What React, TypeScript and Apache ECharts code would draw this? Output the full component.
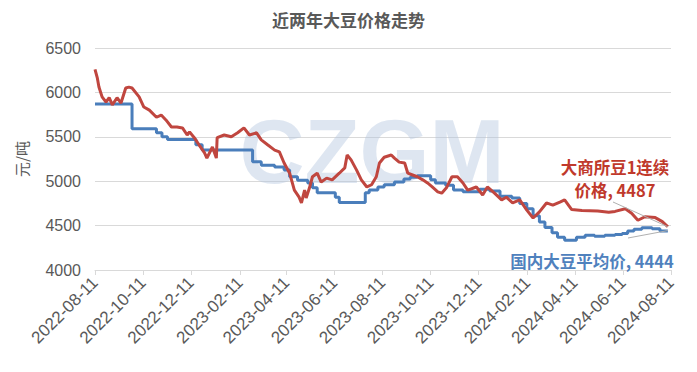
import React, { useEffect, useRef } from "react";
import * as echarts from "echarts";

const TITLE = "近两年大豆价格走势";
const Y_NAME = "元/吨";
const WATERMARK = "CZGM";
const RED_NAME = "大商所豆1连续";
const RED_LABEL_1 = "大商所豆1连续";
const RED_LABEL_2 = "价格, 4487";
const BLUE_NAME = "国内大豆平均价";
const BLUE_LABEL = "国内大豆平均价, 4444";

const X_MIN = "2022-08-11";
const X_MAX = "2024-08-11";
const X_TICKS = [
  "2022-08-11", "2022-10-11", "2022-12-11", "2023-02-11", "2023-04-11",
  "2023-06-11", "2023-08-11", "2023-10-11", "2023-12-11", "2024-02-11",
  "2024-04-11", "2024-06-11", "2024-08-11",
];
const Y_MIN = 4000;
const Y_MAX = 6500;
const Y_STEP = 500;

const redDates = [
  "2022-08-11", "2022-08-14", "2022-08-16", "2022-08-20", "2022-08-25", "2022-08-29",
  "2022-09-02", "2022-09-08", "2022-09-13", "2022-09-19", "2022-09-23", "2022-09-27",
  "2022-10-06", "2022-10-12", "2022-10-19", "2022-10-28", "2022-11-03", "2022-11-09",
  "2022-11-16", "2022-11-23", "2022-11-30", "2022-12-06", "2022-12-09", "2022-12-15",
  "2022-12-21", "2022-12-28", "2022-12-31", "2023-01-07", "2023-01-12", "2023-01-13",
  "2023-01-22", "2023-01-31", "2023-02-08", "2023-02-16", "2023-02-23", "2023-03-04",
  "2023-03-10", "2023-03-18", "2023-03-27", "2023-04-02", "2023-04-08", "2023-04-15",
  "2023-04-21", "2023-04-27", "2023-04-30", "2023-05-04", "2023-05-06", "2023-05-10",
  "2023-05-14", "2023-05-20", "2023-05-25", "2023-06-01", "2023-06-08", "2023-06-17",
  "2023-06-24", "2023-06-27", "2023-07-02", "2023-07-09", "2023-07-15", "2023-07-22",
  "2023-07-28", "2023-08-03", "2023-08-07", "2023-08-13", "2023-08-22", "2023-08-26",
  "2023-09-01", "2023-09-08", "2023-09-12", "2023-09-18", "2023-09-24", "2023-10-01",
  "2023-10-07", "2023-10-13", "2023-10-20", "2023-10-25", "2023-10-31", "2023-11-07",
  "2023-11-14", "2023-11-21", "2023-11-27", "2023-12-02", "2023-12-08", "2023-12-16",
  "2023-12-22", "2023-12-31", "2024-01-09", "2024-01-15", "2024-01-23", "2024-02-01",
  "2024-02-10", "2024-02-18", "2024-02-26", "2024-03-06", "2024-03-14", "2024-03-23",
  "2024-03-29", "2024-04-07", "2024-04-20", "2024-05-10", "2024-05-24", "2024-06-01",
  "2024-06-14", "2024-06-22", "2024-06-30", "2024-07-09", "2024-07-22", "2024-07-31",
  "2024-08-07",
];
const redValues = [
  6260, 6160, 6060, 5950, 5890, 5940,
  5860, 5940, 5880, 6050, 6060, 6050,
  5950, 5835, 5800, 5720, 5745, 5690,
  5610, 5610, 5600, 5520, 5555, 5490,
  5410, 5320, 5260, 5385, 5260, 5490,
  5520, 5500, 5545, 5600, 5520, 5545,
  5465, 5410, 5350, 5330, 5205, 5090,
  4900, 4820, 4755, 4900, 4810, 4920,
  5050, 5090, 4990, 5035, 5015, 5090,
  5150, 5295, 5240, 5125, 5015, 4935,
  4960, 5050, 5205, 5270, 5295, 5260,
  5215, 5205, 5090, 5070, 5050, 5015,
  4980, 4935, 4880, 4865, 4925, 5050,
  5050, 4980, 4900, 4915, 4935, 4845,
  4935, 4865, 4790, 4820, 4755, 4790,
  4675, 4585, 4655, 4755, 4730, 4765,
  4790, 4680, 4670, 4665, 4650, 4660,
  4690, 4640, 4560, 4600, 4590, 4545,
  4487,
];

const blueDates = [
  "2022-08-11", "2022-09-27", "2022-10-28", "2022-11-04", "2022-11-11", "2022-12-17",
  "2022-12-25", "2023-02-27", "2023-03-10", "2023-03-27", "2023-04-08", "2023-04-15",
  "2023-04-25", "2023-05-08", "2023-05-14", "2023-05-20", "2023-06-12", "2023-06-17",
  "2023-07-20", "2023-07-25", "2023-08-05", "2023-08-13", "2023-08-26", "2023-09-07",
  "2023-09-15", "2023-09-24", "2023-10-11", "2023-10-17", "2023-10-30", "2023-11-09",
  "2023-11-21", "2023-12-12", "2023-12-25", "2024-01-07", "2024-01-22", "2024-02-01",
  "2024-02-10", "2024-02-18", "2024-02-26", "2024-03-04", "2024-03-13", "2024-03-20",
  "2024-03-29", "2024-04-13", "2024-04-24", "2024-05-06", "2024-05-19", "2024-06-01",
  "2024-06-10", "2024-06-17", "2024-06-25", "2024-07-05", "2024-07-18", "2024-07-28",
  "2024-08-07",
];
const blueValues = [
  5870, 5590, 5545, 5500, 5470, 5410,
  5350, 5220, 5180, 5160, 5125, 5050,
  5010, 4980, 4925, 4870, 4820, 4760,
  4870, 4900, 4935, 4960, 4990, 5025,
  5045, 5060, 5015, 4980, 4955, 4900,
  4880, 4910, 4890, 4830, 4810, 4750,
  4690, 4610, 4540, 4480, 4420, 4370,
  4335, 4370, 4390, 4380, 4390, 4400,
  4410, 4440, 4460, 4475, 4465, 4440,
  4444,
];

const RED = "#c0463f";
const BLUE = "#4a7ebb";
const RED_TEXT = "#c0392b";
const BLUE_TEXT = "#4f81bd";
const GRAY_TEXT = "#595959";

function ts(s: string): number {
  const [y, m, d] = s.split("-").map(Number);
  return Date.UTC(y, m - 1, d);
}
function fmt(v: number): string {
  const d = new Date(v);
  const p = (n: number) => (n < 10 ? "0" + n : "" + n);
  return d.getUTCFullYear() + "-" + p(d.getUTCMonth() + 1) + "-" + p(d.getUTCDate());
}

export default function App() {
  const ref = useRef<HTMLDivElement>(null);
  useEffect(() => {
    if (!ref.current) return;
    const chart = echarts.init(ref.current, undefined, { renderer: "svg" });
    const tickTs = X_TICKS.map(ts);
    const redData = redDates.map((d, i) => [ts(d), redValues[i]]);
    const blueData = blueDates.map((d, i) => [ts(d), blueValues[i]]);
    chart.setOption({
      animation: false,
      backgroundColor: "#ffffff",
      title: {
        text: TITLE,
        left: "center",
        top: 6,
        textStyle: {
          fontSize: 17,
          fontWeight: "bold",
          color: GRAY_TEXT,
          fontFamily: "Noto Sans CJK SC",
        },
      },
      grid: { left: 95, right: 26, top: 48, bottom: 102 },
      xAxis: {
        type: "value",
        min: ts(X_MIN),
        max: ts(X_MAX),
        axisLine: { show: true, lineStyle: { color: "#d9d9d9", width: 1 } },
        axisTick: {
          show: true,
          customValues: tickTs,
          length: 5,
          lineStyle: { color: "#d9d9d9" },
        },
        splitLine: { show: false },
        axisLabel: {
          customValues: tickTs,
          rotate: 45,
          color: GRAY_TEXT,
          fontSize: 17,
          fontFamily: "Liberation Sans",
          margin: 10,
          hideOverlap: false,
          showMinLabel: true,
          showMaxLabel: true,
          formatter: (v: number) => fmt(v),
        },
      },
      yAxis: {
        type: "value",
        min: Y_MIN,
        max: Y_MAX,
        interval: Y_STEP,
        name: Y_NAME,
        nameLocation: "middle",
        nameRotate: 90,
        nameGap: 66,
        nameTextStyle: {
          fontSize: 15,
          color: GRAY_TEXT,
          fontFamily: "Noto Sans CJK SC",
        },
        axisLine: { show: false },
        axisTick: { show: false },
        splitLine: { lineStyle: { color: "#d9d9d9", width: 1 } },
        axisLabel: {
          color: GRAY_TEXT,
          fontSize: 16,
          fontFamily: "Liberation Sans",
          margin: 14,
          formatter: (v: number) => String(v),
        },
      },
      series: [
        {
          name: BLUE_NAME,
          type: "line",
          step: "end",
          data: blueData,
          showSymbol: false,
          lineStyle: { color: BLUE, width: 3 },
          itemStyle: { color: BLUE },
          z: 3,
        },
        {
          name: RED_NAME,
          type: "line",
          data: redData,
          showSymbol: false,
          lineStyle: { color: RED, width: 3 },
          itemStyle: { color: RED },
          z: 4,
        },
      ],
    });

    const redEnd = chart.convertToPixel({ gridIndex: 0 }, redData[redData.length - 1]) as number[];
    const blueEnd = chart.convertToPixel({ gridIndex: 0 }, blueData[blueData.length - 1]) as number[];

    chart.setOption({
      graphic: [
        {
          type: "text",
          z: 1,
          x: 372,
          y: 152,
          silent: true,
          style: {
            text: WATERMARK,
            fontSize: 90,
            fontWeight: "bold",
            fontFamily: "Liberation Sans",
            fill: "rgba(176,196,222,0.42)",
            align: "center",
            verticalAlign: "middle",
          },
        },
        {
          type: "line",
          z: 5,
          shape: { x1: 613, y1: 202, x2: redEnd[0], y2: redEnd[1] },
          style: { stroke: "#b0b0b0", lineWidth: 1 },
        },
        {
          type: "line",
          z: 5,
          shape: { x1: 628, y1: 238, x2: blueEnd[0], y2: blueEnd[1] },
          style: { stroke: "#b0b0b0", lineWidth: 1 },
        },
        {
          type: "text",
          z: 6,
          x: 615,
          y: 167,
          style: {
            text: RED_LABEL_1,
            fontSize: 16.5,
            fontWeight: "bold",
            fontFamily: "Noto Sans CJK SC",
            fill: RED_TEXT,
            align: "center",
            verticalAlign: "middle",
          },
        },
        {
          type: "text",
          z: 6,
          x: 615,
          y: 190,
          style: {
            text: RED_LABEL_2,
            fontSize: 16.5,
            fontWeight: "bold",
            fontFamily: "Noto Sans CJK SC",
            fill: RED_TEXT,
            align: "center",
            verticalAlign: "middle",
          },
        },
        {
          type: "text",
          z: 6,
          x: 592,
          y: 261,
          style: {
            text: BLUE_LABEL,
            fontSize: 16.5,
            fontWeight: "bold",
            fontFamily: "Noto Sans CJK SC",
            fill: BLUE_TEXT,
            align: "center",
            verticalAlign: "middle",
          },
        },
      ],
    });
    return () => chart.dispose();
  }, []);
  return <div ref={ref} style={{ width: 697, height: 372, margin: -8 }} />;
}
